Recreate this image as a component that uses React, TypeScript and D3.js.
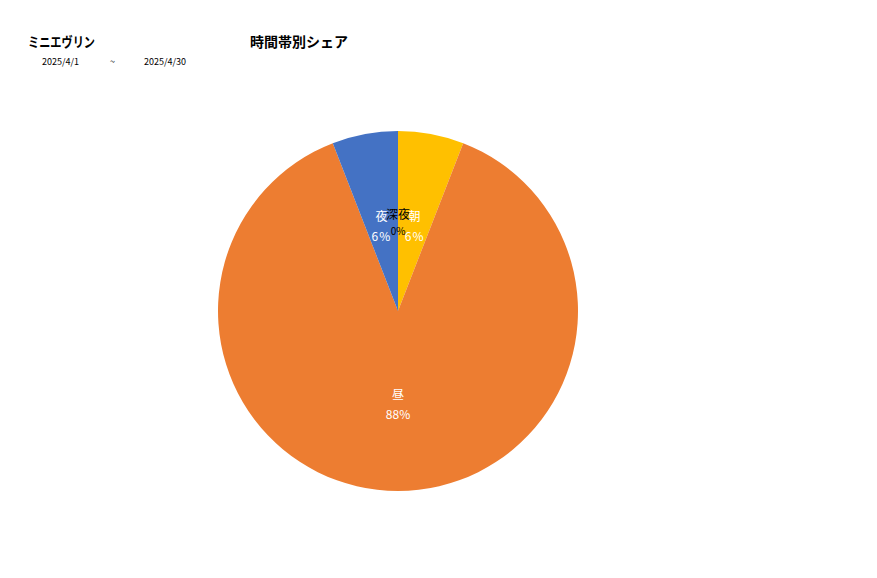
import React from "react";
import * as d3 from "d3";

const WIDTH = 877;
const HEIGHT = 578;

// 時間帯別シェア (%)
const categories: string[] = ["深夜", "朝", "昼", "夜"];
const values: number[] = [0, 5.9, 88.2, 5.9];
const percentLabels: string[] = ["0%", "6%", "88%", "6%"];
const colors: string[] = ["#A5A5A5", "#FFC000", "#ED7D31", "#4472C4"];
const labelColors: string[] = ["#000000", "#FFFFFF", "#FFFFFF", "#FFFFFF"];

const FONT = "'Noto Sans CJK JP', 'Noto Sans', sans-serif";

const App: React.FC = () => {
  const cx = 398;
  const cy = 311;
  const radius = 180;

  const pie = d3
    .pie<number>()
    .sort(null)
    .value((d) => d);
  const arcs = pie(values);
  const arc = d3.arc<d3.PieArcDatum<number>>().innerRadius(0).outerRadius(radius);
  const labelArc = d3
    .arc<d3.PieArcDatum<number>>()
    .innerRadius(radius * 0.5)
    .outerRadius(radius * 0.5);

  return (
    <svg
      width={WIDTH}
      height={HEIGHT}
      style={{ position: "absolute", left: 0, top: 0, background: "#fff" }}
    >
      <text
        x={28}
        y={47}
        fontFamily={FONT}
        fontSize={14}
        fontWeight="bold"
        fill="#000"
        textLength={67}
        lengthAdjust="spacingAndGlyphs"
      >
        ミニエヴリン
      </text>
      <text x={250} y={47} fontFamily={FONT} fontSize={14} fontWeight="bold" fill="#000">
        時間帯別シェア
      </text>
      <text x={42} y={65} fontFamily={FONT} fontSize={9} fill="#000">
        2025/4/1
      </text>
      <text x={110} y={65} fontFamily={FONT} fontSize={9} fill="#000">
        ~
      </text>
      <text x={144} y={65} fontFamily={FONT} fontSize={9} fill="#000">
        2025/4/30
      </text>

      <g transform={`translate(${cx},${cy})`}>
        {arcs.map((a, i) => (
          <path
            key={categories[i]}
            d={arc(a) || ""}
            fill={colors[i]}
            stroke={i === 0 ? "#999" : "none"}
            strokeWidth={0.8}
          />
        ))}
        {arcs.map((a, i) => {
          const [lx, ly] = labelArc.centroid(a);
          return (
            <text
              key={`l-${categories[i]}`}
              textAnchor="middle"
              fontFamily={FONT}
              fontSize={12}
              fill={labelColors[i]}
            >
              <tspan x={lx} y={ly - 2}>
                {categories[i]}
              </tspan>
              <tspan
                x={lx}
                y={ly + (i === 0 ? 14 : 18)}
                fontSize={i === 0 ? 10 : 12}
                letterSpacing={i === 0 || i === 2 ? 0 : 1}
              >
                {percentLabels[i]}
              </tspan>
            </text>
          );
        })}
      </g>
    </svg>
  );
};

export default App;
